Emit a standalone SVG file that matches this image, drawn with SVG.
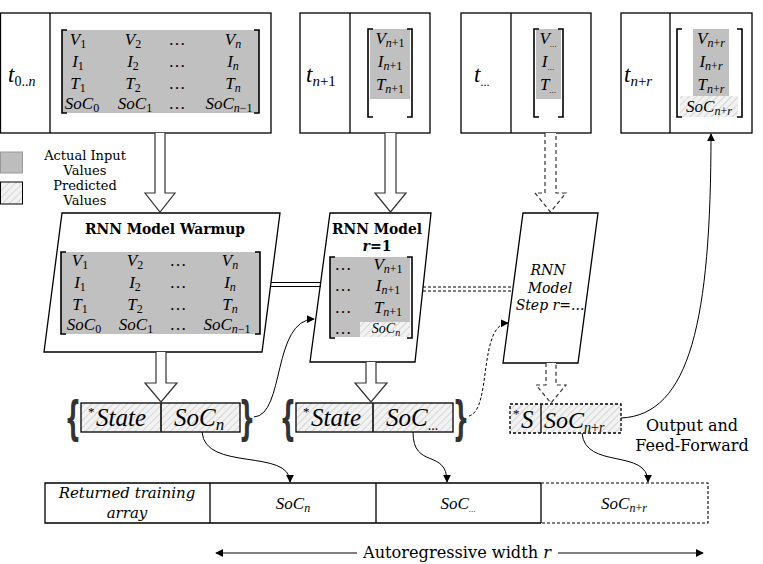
<svg xmlns="http://www.w3.org/2000/svg" width="763" height="564" viewBox="0 0 763 564">
<style>
.m{font-family:"Liberation Serif",serif;font-style:italic;font-size:17px;fill:#000}
.mu{font-style:normal}
.s{font-size:12px;font-style:normal}
.si{font-size:12px;font-style:italic}
.lbl{font-family:"DejaVu Serif",serif;fill:#000}
.box{fill:#fff;stroke:#000;stroke-width:1.3}
.gray{fill:#c0c0c0}
.hatch{fill:url(#hatch)}
.brk{fill:none;stroke:#000;stroke-width:1.6}
.blk{fill:#fff;stroke:#333;stroke-width:1.2}
.dash{stroke-dasharray:4 3}
.conn{fill:none;stroke:#000;stroke-width:1;marker-end:url(#ah)}
.brace{font-family:"DejaVu Sans",sans-serif;font-weight:bold;font-size:46px;fill:#333}
</style>
<defs>
<pattern id="hatch" patternUnits="userSpaceOnUse" width="5" height="5" patternTransform="rotate(45)">
<rect width="5" height="5" fill="#f2f2f2"/>
<line x1="0" y1="0" x2="0" y2="5" stroke="#c4c4c4" stroke-width="1.2"/>
</pattern>
<marker id="ah" viewBox="0 0 10 10" refX="9" refY="5" markerWidth="8" markerHeight="8" orient="auto" markerUnits="userSpaceOnUse">
<path d="M0,0 L10,5 L0,10 Z" fill="#000"/>
</marker>
</defs>

<!-- Top box t0..n -->
<g id="box-t0n">
<rect class="box" x="0.5" y="13" width="270.5" height="120"/>
<line x1="50" y1="13" x2="50" y2="133" stroke="#000" stroke-width="1.3"/>
<text class="m" x="8" y="82" style="font-size:23px">t<tspan class="s" style="font-size:14px" dy="4">0..</tspan><tspan class="si" style="font-size:14px">n</tspan></text>
<rect class="gray" x="62" y="30" width="197" height="83"/>
<path class="brk" d="M67,30 H62 V113 H67 M254,30 H259 V113 H254"/>
<text class="m" x="78" y="45" text-anchor="middle">V<tspan class="s" dy="3">1</tspan></text>
<text class="m" x="133" y="45" text-anchor="middle">V<tspan class="s" dy="3">2</tspan></text>
<text class="m mu" x="177" y="45" text-anchor="middle">…</text>
<text class="m" x="233" y="45" text-anchor="middle">V<tspan class="si" dy="3">n</tspan></text>
<text class="m" x="78" y="67" text-anchor="middle">I<tspan class="s" dy="3">1</tspan></text>
<text class="m" x="133" y="67" text-anchor="middle">I<tspan class="s" dy="3">2</tspan></text>
<text class="m mu" x="177" y="67" text-anchor="middle">…</text>
<text class="m" x="233" y="67" text-anchor="middle">I<tspan class="si" dy="3">n</tspan></text>
<text class="m" x="78" y="89" text-anchor="middle">T<tspan class="s" dy="3">1</tspan></text>
<text class="m" x="133" y="89" text-anchor="middle">T<tspan class="s" dy="3">2</tspan></text>
<text class="m mu" x="177" y="89" text-anchor="middle">…</text>
<text class="m" x="233" y="89" text-anchor="middle">T<tspan class="si" dy="3">n</tspan></text>
<text class="m" x="82" y="109" text-anchor="middle">SoC<tspan class="s" dy="3">0</tspan></text>
<text class="m" x="135" y="109" text-anchor="middle">SoC<tspan class="s" dy="3">1</tspan></text>
<text class="m mu" x="177" y="109" text-anchor="middle">…</text>
<text class="m" x="229" y="109" text-anchor="middle">SoC<tspan class="si" dy="3">n</tspan><tspan class="s">−1</tspan></text>
</g>

<!-- Top box t n+1 -->
<g id="box-tn1">
<rect class="box" x="300" y="13" width="130" height="120"/>
<line x1="350" y1="13" x2="350" y2="133" stroke="#000" stroke-width="1.3"/>
<text class="m" x="306" y="82" style="font-size:23px">t<tspan class="si" style="font-size:15px" dy="4">n</tspan><tspan class="s" style="font-size:15px">+1</tspan></text>
<rect class="gray" x="370" y="29" width="40" height="70"/>
<path class="brk" d="M373,29 H368 V117 H373 M407,29 H412 V117 H407"/>
<text class="m" x="390" y="44" text-anchor="middle">V<tspan class="si" dy="3">n</tspan><tspan class="s">+1</tspan></text>
<text class="m" x="390" y="67" text-anchor="middle">I<tspan class="si" dy="3">n</tspan><tspan class="s">+1</tspan></text>
<text class="m" x="390" y="90" text-anchor="middle">T<tspan class="si" dy="3">n</tspan><tspan class="s">+1</tspan></text>
</g>

<!-- Top box t ... -->
<g id="box-tdots">
<rect class="box" x="461" y="13" width="130" height="120"/>
<line x1="511" y1="13" x2="511" y2="133" stroke="#000" stroke-width="1.3"/>
<text class="m" x="474" y="82" style="font-size:23px">t<tspan class="s" style="font-size:12px" dy="4">...</tspan></text>
<rect class="gray" x="536" y="29" width="25" height="70"/>
<path class="brk" d="M539,29 H534 V117 H539 M558,29 H563 V117 H558"/>
<text class="m" x="548" y="44" text-anchor="middle">V<tspan class="s" style="font-size:9px" dy="3">...</tspan></text>
<text class="m" x="548" y="67" text-anchor="middle">I<tspan class="s" style="font-size:9px" dy="3">...</tspan></text>
<text class="m" x="548" y="90" text-anchor="middle">T<tspan class="s" style="font-size:9px" dy="3">...</tspan></text>
</g>

<!-- Top box t n+r -->
<g id="box-tnr">
<rect class="box" x="621" y="13" width="131" height="120"/>
<line x1="670" y1="13" x2="670" y2="133" stroke="#000" stroke-width="1.3"/>
<text class="m" x="624" y="82" style="font-size:23px">t<tspan class="si" style="font-size:15px" dy="4">n</tspan><tspan class="s" style="font-size:15px">+</tspan><tspan class="si" style="font-size:15px">r</tspan></text>
<rect class="gray" x="693" y="29" width="36" height="67"/>
<rect class="hatch" x="680" y="96" width="58" height="21"/>
<path class="brk" d="M682,29 H677 V117 H682 M737,29 H742 V117 H737"/>
<text class="m" x="711" y="44" text-anchor="middle">V<tspan class="si" dy="3">n</tspan><tspan class="s">+</tspan><tspan class="si">r</tspan></text>
<text class="m" x="711" y="67" text-anchor="middle">I<tspan class="si" dy="3">n</tspan><tspan class="s">+</tspan><tspan class="si">r</tspan></text>
<text class="m" x="711" y="90" text-anchor="middle">T<tspan class="si" dy="3">n</tspan><tspan class="s">+</tspan><tspan class="si">r</tspan></text>
<text class="m" x="709" y="112" text-anchor="middle">SoC<tspan class="si" dy="3">n</tspan><tspan class="s">+</tspan><tspan class="si">r</tspan></text>
</g>

<!-- Legend -->
<g id="legend">
<rect x="0.5" y="152" width="22" height="21" fill="#bdbdbd" stroke="#999" stroke-width="1"/>
<rect class="hatch" x="0.5" y="182" width="22" height="22" stroke="#000" stroke-width="1"/>
<text class="lbl" style="font-size:13px" text-anchor="middle"><tspan x="85" y="160">Actual Input</tspan><tspan x="85" y="175">Values</tspan><tspan x="85" y="190">Predicted</tspan><tspan x="85" y="205">Values</tspan></text>
</g>

<!-- RNN Model Warmup -->
<g id="rnn-warmup">
<polygon class="box" points="62,213 280,213 262,352 44,352"/>
<text class="lbl" x="165" y="234" style="font-size:15px;font-weight:bold" text-anchor="middle" textLength="160" lengthAdjust="spacingAndGlyphs">RNN Model Warmup</text>
<rect class="gray" x="61" y="252" width="199" height="82"/>
<path class="brk" d="M66,252 H61 V334 H66 M255,252 H260 V334 H255"/>
<text class="m" x="80" y="266" text-anchor="middle">V<tspan class="s" dy="3">1</tspan></text>
<text class="m" x="135" y="266" text-anchor="middle">V<tspan class="s" dy="3">2</tspan></text>
<text class="m mu" x="178" y="266" text-anchor="middle">…</text>
<text class="m" x="230" y="266" text-anchor="middle">V<tspan class="si" dy="3">n</tspan></text>
<text class="m" x="80" y="288" text-anchor="middle">I<tspan class="s" dy="3">1</tspan></text>
<text class="m" x="135" y="288" text-anchor="middle">I<tspan class="s" dy="3">2</tspan></text>
<text class="m mu" x="178" y="288" text-anchor="middle">…</text>
<text class="m" x="230" y="288" text-anchor="middle">I<tspan class="si" dy="3">n</tspan></text>
<text class="m" x="80" y="310" text-anchor="middle">T<tspan class="s" dy="3">1</tspan></text>
<text class="m" x="135" y="310" text-anchor="middle">T<tspan class="s" dy="3">2</tspan></text>
<text class="m mu" x="178" y="310" text-anchor="middle">…</text>
<text class="m" x="230" y="310" text-anchor="middle">T<tspan class="si" dy="3">n</tspan></text>
<text class="m" x="84" y="330" text-anchor="middle">SoC<tspan class="s" dy="3">0</tspan></text>
<text class="m" x="136" y="330" text-anchor="middle">SoC<tspan class="s" dy="3">1</tspan></text>
<text class="m mu" x="178" y="330" text-anchor="middle">…</text>
<text class="m" x="227" y="330" text-anchor="middle">SoC<tspan class="si" dy="3">n</tspan><tspan class="s">−1</tspan></text>
</g>

<!-- RNN Model r=1 -->
<g id="rnn-r1">
<polygon class="box" points="330,213 431,213 415,362 310,362"/>
<text class="lbl" x="377" y="234" style="font-size:14px;font-weight:bold" text-anchor="middle" textLength="90" lengthAdjust="spacingAndGlyphs">RNN Model</text>
<text class="lbl" x="377" y="251" style="font-size:14px;font-weight:bold" text-anchor="middle"><tspan style="font-style:italic">r</tspan>=1</text>
<rect class="gray" x="330" y="257" width="80" height="65"/>
<rect class="gray" x="330" y="322" width="30" height="15"/>
<rect class="hatch" x="360" y="322" width="50" height="15"/>
<path class="brk" d="M335,257 H330 V338 H335 M407,257 H412 V338 H407"/>
<text class="m mu" x="343" y="270" text-anchor="middle">…</text>
<text class="m mu" x="343" y="291" text-anchor="middle">…</text>
<text class="m mu" x="343" y="313" text-anchor="middle">…</text>
<text class="m mu" x="343" y="334" text-anchor="middle">…</text>
<text class="m" x="388" y="270" text-anchor="middle">V<tspan class="si" dy="3">n</tspan><tspan class="s">+1</tspan></text>
<text class="m" x="388" y="291" text-anchor="middle">I<tspan class="si" dy="3">n</tspan><tspan class="s">+1</tspan></text>
<text class="m" x="388" y="313" text-anchor="middle">T<tspan class="si" dy="3">n</tspan><tspan class="s">+1</tspan></text>
<text class="m" x="386" y="333" text-anchor="middle" style="font-size:14px">SoC<tspan class="si" style="font-size:10px" dy="3">n</tspan></text>
</g>

<!-- RNN Model Step r=... -->
<g id="rnn-step">
<polygon class="box" points="523,213 598,213 578,363 503,363"/>
<text class="lbl" style="font-size:14px;font-style:italic" text-anchor="middle"><tspan x="548" y="275">RNN</tspan><tspan x="550" y="293">Model</tspan><tspan x="550" y="310">Step r=...</tspan></text>
</g>

<!-- State box 1 -->
<g id="state-1">
<rect class="hatch" x="81" y="403" width="159" height="29" stroke="#000" stroke-width="1.3"/>
<line x1="161" y1="403" x2="161" y2="432" stroke="#222" stroke-width="1.8"/>
<text class="m mu" x="88" y="416" style="font-size:13px">*</text>
<text class="m" x="96" y="426" style="font-size:25px">State</text>
<text class="m" x="174" y="426" style="font-size:25px">SoC<tspan class="si" style="font-size:17px" dy="4">n</tspan></text>
<text class="brace" transform="translate(73,434) scale(0.5,1)" text-anchor="middle">{</text>
<text class="brace" transform="translate(247,434) scale(0.5,1)" text-anchor="middle">}</text>
</g>

<!-- State box 2 -->
<g id="state-2">
<rect class="hatch" x="296" y="403" width="157" height="29" stroke="#000" stroke-width="1.3"/>
<line x1="373" y1="403" x2="373" y2="432" stroke="#222" stroke-width="1.8"/>
<text class="m mu" x="303" y="416" style="font-size:13px">*</text>
<text class="m" x="311" y="426" style="font-size:25px">State</text>
<text class="m" x="386" y="426" style="font-size:25px">SoC<tspan class="s" style="font-size:14px" dy="4">...</tspan></text>
<text class="brace" transform="translate(288,434) scale(0.5,1)" text-anchor="middle">{</text>
<text class="brace" transform="translate(461,434) scale(0.5,1)" text-anchor="middle">}</text>
</g>

<!-- S box (predicted) -->
<g id="state-r">
<rect class="hatch" x="510" y="404" width="111" height="29" stroke="#000" stroke-width="1.3" stroke-dasharray="3 2"/>
<line x1="541" y1="404" x2="541" y2="433" stroke="#000" stroke-width="1.3"/>
<text class="m mu" x="513" y="418" style="font-size:13px">*</text>
<text class="m" x="521" y="428" style="font-size:25px">S</text>
<text class="m" x="544" y="428" style="font-size:24px">SoC<tspan class="si" style="font-size:14px" dy="4">n</tspan><tspan class="s" style="font-size:14px">+</tspan><tspan class="si" style="font-size:14px">r</tspan></text>
</g>

<text id="label-output" class="lbl" style="font-size:16px" text-anchor="middle"><tspan x="692" y="431">Output and</tspan><tspan x="692" y="451">Feed-Forward</tspan></text>

<!-- Returned training array -->
<g id="array">
<path d="M541,483 H45 V523 H541" fill="none" stroke="#000" stroke-width="1.3"/>
<path d="M541,483 H708 V523 H541" fill="none" stroke="#000" stroke-width="1.1" stroke-dasharray="3 2"/>
<line x1="210" y1="483" x2="210" y2="523" stroke="#000" stroke-width="1.3"/>
<line x1="376" y1="483" x2="376" y2="523" stroke="#000" stroke-width="1.3"/>
<line x1="541" y1="483" x2="541" y2="523" stroke="#000" stroke-width="1.3"/>
<text class="lbl" style="font-size:15px;font-style:italic" text-anchor="middle"><tspan x="127" y="498">Returned training</tspan><tspan x="127" y="518">array</tspan></text>
<text class="m" x="293" y="509" text-anchor="middle">SoC<tspan class="si" dy="3">n</tspan></text>
<text class="m" x="458" y="509" text-anchor="middle">SoC<tspan class="s" style="font-size:9px" dy="3">...</tspan></text>
<text class="m" x="624" y="509" text-anchor="middle">SoC<tspan class="si" dy="3">n</tspan><tspan class="s">+</tspan><tspan class="si">r</tspan></text>
</g>

<g id="width-label">
<text class="lbl" x="457" y="558" style="font-size:16px" text-anchor="middle" textLength="188" lengthAdjust="spacingAndGlyphs">Autoregressive width <tspan style="font-style:italic">r</tspan></text>
</g>

<!-- Connectors -->
<g id="connectors">
<path class="blk" d="M155,133 V193 H145 L160,212 L175,193 H165 V133"/>
<path class="blk" d="M385,133 V193 H375 L390.5,212 L406,193 H396 V133"/>
<path class="blk dash" d="M545,133 V193 H535 L550.5,212 L566,193 H556 V133"/>
<path class="blk" d="M156,352 V383 H145 L161,402 L177,383 H166 V352"/>
<path class="blk" d="M366,362 V383 H355 L371,402 L387,383 H376 V362"/>
<path class="blk dash" d="M546,363 V385 H536 L551,403 L566,385 H556 V363"/>
<line x1="271" y1="282.5" x2="321" y2="282.5" stroke="#000" stroke-width="1.2"/>
<line x1="271" y1="286.5" x2="321" y2="286.5" stroke="#000" stroke-width="1.2"/>
<line x1="423" y1="287" x2="513" y2="287" stroke="#000" stroke-width="1.1" stroke-dasharray="3 2"/>
<line x1="423" y1="291" x2="513" y2="291" stroke="#000" stroke-width="1.1" stroke-dasharray="3 2"/>
<path class="conn" d="M254,417 C285,415 272,320 314,319"/>
<path class="conn" d="M469,416 C492,410 478,324 508,323" stroke-dasharray="3 2"/>
<path class="conn" d="M202,432 C205,472 290,448 290,482"/>
<path class="conn" d="M413,432 C413,470 447,448 447,482"/>
<path class="conn" d="M582,433 C585,470 648,448 648,482"/>
<path class="conn" d="M621,418 C690,415 711,320 711,134"/>
<line x1="357" y1="553" x2="216" y2="553" stroke="#000" stroke-width="1" marker-end="url(#ah)"/>
<line x1="558" y1="553" x2="703" y2="553" stroke="#000" stroke-width="1" marker-end="url(#ah)"/>
</g>
</svg>
